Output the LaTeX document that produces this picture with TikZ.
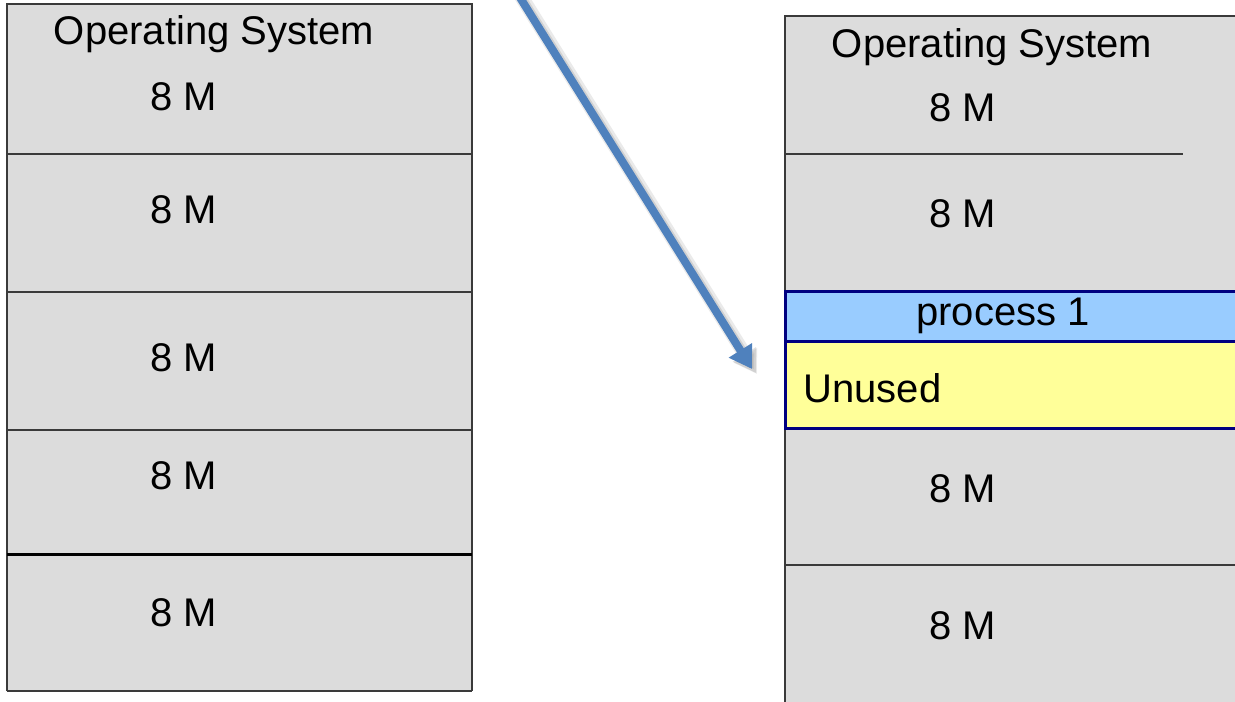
\documentclass[tikz,border=0pt]{standalone}
\usepackage{fontspec}
\setmainfont{Liberation Sans}
\usetikzlibrary{arrows.meta}
\definecolor{memgray}{HTML}{DCDCDC}
\definecolor{rule}{HTML}{3A3A3A}
\definecolor{procblue}{HTML}{99CCFF}
\definecolor{unusedyel}{HTML}{FFFF99}
\definecolor{edgenavy}{HTML}{000080}
\definecolor{arrowblue}{HTML}{4F81BD}
\tikzset{
  partline/.style={draw=rule, line width=0.75pt},
  lbl/.style={font=\fontsize{20}{24}\selectfont, inner sep=0pt, anchor=center},
  slot/.style={draw=edgenavy, line width=1.5pt},
  loadtip/.style={-{Triangle[length=11pt,width=13pt]}},
}
\begin{document}
\begin{tikzpicture}[x=0.5pt, y=-0.5pt]
\useasboundingbox (0,0) rectangle (1235,701);
\fill[white] (0,0) rectangle (1235,701);

% memory before loading
\fill[memgray] (7,4) rectangle (472,691);
\draw[partline] (7,691) -- (7,4) -- (472,4) -- (472,691);
\draw[partline] (7,691) -- (472,691);
\draw[partline] (7,154) -- (472,154);
\draw[partline] (7,292) -- (472,292);
\draw[partline] (7,430) -- (472,430);
\draw[draw=black, line width=1.5pt] (7,554) -- (472,554);

\node[lbl] (os1)  at (214,34)  {Operating System};
\node[lbl] (a1)   at (184,97)  {8 M};
\node[lbl] (a2)   at (184,210) {8 M};
\node[lbl] (a3)   at (184,358) {8 M};
\node[lbl] (a4)   at (184,476) {8 M};
\node[lbl] (a5)   at (184,613) {8 M};

% memory after loading process 1
\fill[memgray] (785,16) rectangle (1240,705);
\draw[partline] (785,705) -- (785,16) -- (1240,16);
\draw[partline] (785,154) -- (1183,154);
\draw[partline] (785,565) -- (1240,565);
\fill[procblue] (785,291) rectangle (1240,341);
\fill[unusedyel] (785,341) rectangle (1240,428);
\draw[slot] (1240,291) -- (785,291) -- (785,428) -- (1240,428);
\draw[slot] (785,341) -- (1240,341);

\node[lbl] (os2)  at (992,47)  {Operating System};
\node[lbl] (b1)   at (963,108) {8 M};
\node[lbl] (b2)   at (963,214) {8 M};
\node[lbl] (p1)   at (1003,316) {process 1};
\node[lbl, anchor=west] (un) at (803,388) {Unused};
\node[lbl] (b3)   at (963,489) {8 M};
\node[lbl] (b4)   at (963,626) {8 M};

% load arrow with soft shadow
\coordinate (from) at (514,-12);
\coordinate (to)   at (752,369);
\draw[black!40, opacity=0.2, line width=7pt, loadtip]
  ([shift={(5,5)}]from) -- ([shift={(5,5)}]to);
\draw[black!40, opacity=0.3, line width=4.5pt, loadtip]
  ([shift={(4,4)}]from) -- ([shift={(4,4)}]to);
\draw[arrowblue, line width=4pt, loadtip] (from) -- (to);
\end{tikzpicture}
\end{document}
